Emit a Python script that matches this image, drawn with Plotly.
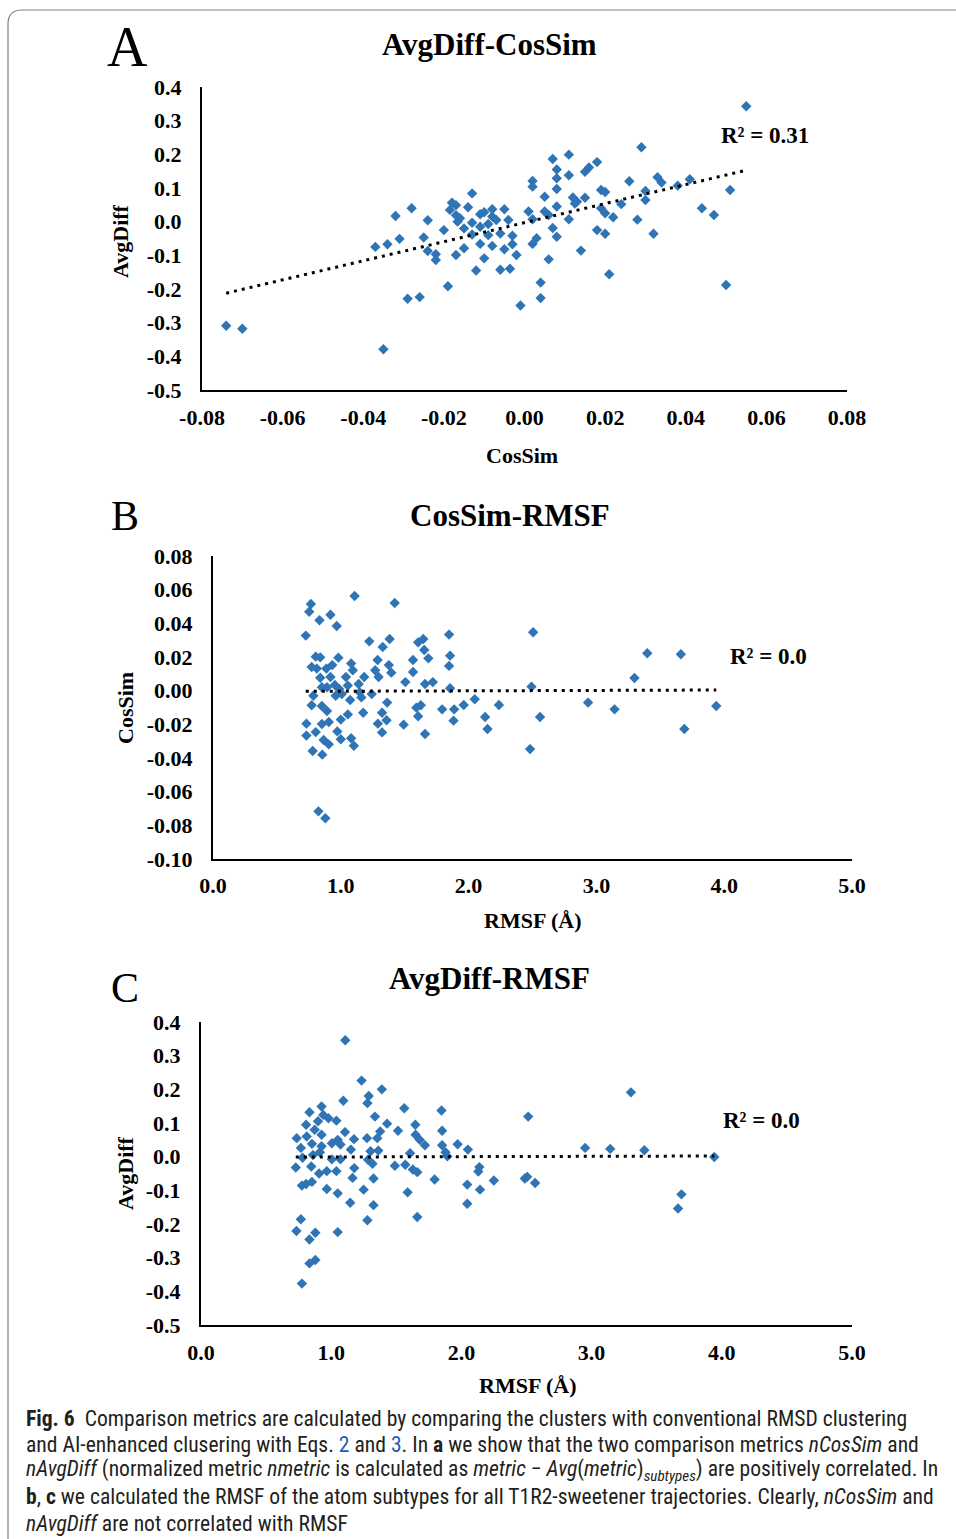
import plotly.graph_objects as go

W, H = 956, 1539

# ---------------- data ----------------
a_cossim = [0.055, 0.029, 0.011, 0.007, 0.018, 0.008, 0.016, 0.015, 0.008, 0.011,
            0.002, 0.002, 0.008, 0.026, 0.033, 0.034, 0.038, 0.041, 0.051, 0.030,
            0.019, 0.020, 0.005, 0.012, 0.015, 0.0125, 0.008, 0.030, 0.024, 0.019,
            0.020, 0.022, 0.028, 0.044, 0.047, 0.032, 0.050, -0.013, -0.028, -0.032,
            -0.024, -0.018, -0.017, -0.0185, -0.014, -0.0166, -0.016, -0.020, -0.031, -0.025,
            -0.037, -0.034, -0.024, -0.022, -0.022, -0.017, -0.015, -0.012, -0.019, -0.029,
            -0.026, -0.035, -0.074, -0.070, -0.015, -0.013, -0.011, -0.011, -0.008, -0.005,
            -0.008, -0.007, -0.009, -0.004, -0.006, -0.009, -0.011, -0.008, -0.003, -0.003,
            -0.005, -0.002, -0.010, -0.006, -0.0036, -0.001, 0.004, 0.004, 0.006, 0.014,
            0.021, 0.018, 0.020, 0.008, 0.007, 0.002, 0.003, 0.001, 0.002, 0.005,
            0.006, 0.011, 0.013, -0.013, -0.017, -0.010]
a_avgdiff = [0.343, 0.221, 0.199, 0.186, 0.177, 0.155, 0.161, 0.148, 0.129, 0.138,
             0.121, 0.104, 0.097, 0.120, 0.132, 0.116, 0.107, 0.126, 0.094, 0.091,
             0.094, 0.088, 0.074, 0.072, 0.071, 0.054, 0.045, 0.064, 0.052, 0.040,
             0.025, 0.013, 0.006, 0.040, 0.020, -0.036, -0.188, 0.084, 0.040, 0.017,
             0.004, 0.056, 0.049, 0.035, 0.043, 0.000, 0.010, -0.025, -0.051, -0.047,
             -0.075, -0.067, -0.087, -0.097, -0.114, -0.099, -0.079, -0.145, -0.192, -0.229,
             -0.224, -0.379, -0.309, -0.318, -0.020, -0.038, -0.015, 0.022, 0.037, 0.037,
             0.015, 0.005, -0.007, 0.005, -0.035, -0.040, -0.066, -0.072, -0.042, -0.067,
             -0.082, -0.099, -0.109, -0.143, -0.140, -0.249, -0.181, -0.227, -0.112, -0.086,
             -0.156, -0.025, -0.036, -0.045, -0.019, -0.066, -0.049, 0.030, 0.007, 0.030,
             0.020, 0.007, 0.059, -0.003, 0.019, 0.028]
a_trend = [2.83, -0.003]          # slope, intercept of the dotted trendline
a_r2 = "R² = 0.31"

b_rmsf = [0.726, 0.766, 0.753, 0.833, 0.919, 0.968, 1.108, 1.422, 0.804, 0.839,
          0.981, 0.772, 0.812, 0.887, 0.933, 0.839, 0.919, 0.954, 1.040, 1.081,
          1.094, 1.183, 1.223, 1.328, 1.382, 1.288, 1.376, 1.395, 1.269, 1.296,
          1.140, 1.565, 1.605, 1.645, 1.653, 1.685, 1.565, 1.505, 1.659, 1.720,
          1.847, 1.855, 1.847, 1.855, 2.505, 2.492, 3.398, 3.661, 3.298, 3.938,
          2.935, 3.142, 3.688, 2.559, 2.481, 2.129, 2.148, 2.237, 2.048, 1.962,
          1.887, 1.882, 1.793, 1.659, 1.591, 1.626, 1.605, 1.492, 1.363, 1.323,
          1.358, 1.290, 1.323, 1.175, 1.161, 1.073, 1.055, 1.000, 0.973, 1.000,
          1.081, 1.102, 0.906, 0.852, 0.866, 0.906, 0.780, 0.855, 0.731, 0.731,
          0.804, 0.772, 0.852, 0.892, 0.825, 0.879, 0.785, 0.852, 0.960, 1.148,
          1.242, 0.987, 1.055, 0.892, 1.008]
b_cossim = [0.0327, 0.0515, 0.0469, 0.0418, 0.0451, 0.0384, 0.0562, 0.0521, 0.0202, 0.0198,
            0.0196, 0.0141, 0.0131, 0.0131, 0.0152, 0.0077, 0.0081, 0.0034, 0.0081, 0.0162,
            0.0121, 0.0081, 0.0293, 0.0259, 0.0307, 0.0182, 0.0152, 0.0107, 0.0121, 0.0081,
            0.0040, 0.0182, 0.0287, 0.0307, 0.0242, 0.0192, 0.0111, 0.0051, 0.0040, 0.0051,
            0.0333, 0.0208, 0.0147, 0.0014, 0.0347, 0.0024, 0.0222, 0.0216, 0.0075, -0.0091,
            -0.0071, -0.0111, -0.0228, -0.0156, -0.0347, -0.0156, -0.0228, -0.0085, -0.0051, -0.0085,
            -0.0111, -0.0178, -0.0111, -0.0257, -0.0101, -0.0087, -0.0152, -0.0202, -0.0071, -0.0131,
            -0.0176, -0.0196, -0.0248, -0.0131, -0.0040, -0.0055, -0.0141, -0.0172, -0.0242, -0.0289,
            -0.0283, -0.0327, -0.0186, -0.0198, -0.0293, -0.0319, -0.0358, -0.0380, -0.0196, -0.0267,
            -0.0246, -0.0087, -0.0091, -0.0121, -0.0717, -0.0758, -0.0030, 0.0020, -0.0030, -0.0010,
            -0.0020, 0.0010, 0.0030, 0.0020, -0.0020]
b_trend = [0.00025, -0.0006]
b_r2 = "R² = 0.0"

c_rmsf = [1.108, 1.233, 1.389, 1.288, 1.278, 1.093, 3.302, 2.513, 1.561, 1.847,
          1.852, 1.852, 1.878, 1.892, 1.971, 2.050, 1.646, 1.648, 1.680, 1.720,
          1.429, 1.513, 1.336, 1.376, 1.354, 1.275, 1.175, 1.106, 1.040, 0.926,
          0.833, 0.807, 0.873, 0.899, 0.939, 0.979, 0.735, 0.812, 0.767, 0.852,
          0.926, 1.005, 1.050, 1.071, 0.926, 0.728, 0.847, 0.860, 0.907, 0.966,
          1.005, 1.040, 1.164, 1.177, 0.775, 0.807, 0.852, 0.966, 1.050, 1.146,
          1.249, 1.325, 1.325, 1.278, 1.050, 0.767, 0.733, 0.878, 0.833, 0.833,
          0.878, 0.775, 1.489, 1.569, 1.606, 1.627, 1.661, 1.587, 1.661, 1.794,
          2.045, 2.045, 2.143, 2.130, 2.138, 2.249, 2.487, 2.505, 2.566, 2.950,
          3.143, 3.405, 3.942, 3.690, 3.664, 1.302, 1.362, 1.283, 1.317, 1.071,
          1.151, 0.780, 0.913]
c_avgdiff = [0.346, 0.226, 0.200, 0.180, 0.159, 0.166, 0.191, 0.119, 0.144, 0.137,
             0.077, 0.034, 0.013, 0.001, 0.037, 0.021, 0.095, 0.065, 0.050, 0.034,
             0.098, 0.077, 0.119, 0.075, 0.055, 0.055, 0.052, 0.073, 0.107, 0.149,
             0.132, 0.095, 0.080, 0.105, 0.124, 0.114, 0.055, 0.060, 0.026, 0.038,
             0.065, 0.040, 0.050, 0.036, 0.031, -0.032, -0.029, 0.005, -0.050, -0.043,
             -0.008, -0.043, -0.063, -0.034, -0.086, -0.081, -0.075, -0.096, -0.109, -0.137,
             -0.098, -0.065, -0.144, -0.189, -0.224, -0.186, -0.221, -0.226, -0.246, -0.317,
             -0.307, -0.377, -0.027, -0.024, 0.010, -0.038, -0.046, -0.106, -0.179, -0.068,
             -0.083, -0.140, -0.098, -0.044, -0.031, -0.071, -0.065, -0.060, -0.078, 0.026,
             0.023, 0.019, -0.001, -0.112, -0.154, 0.016, 0.018, -0.009, -0.021, -0.008,
             0.021, -0.003, 0.013]
c_trend = [0.001, -0.002]
c_r2 = "R² = 0.0"

# tick labels
a_xticks = [-0.08, -0.06, -0.04, -0.02, 0.0, 0.02, 0.04, 0.06, 0.08]
a_xlabels = ["-0.08", "-0.06", "-0.04", "-0.02", "0.00", "0.02", "0.04", "0.06", "0.08"]
ad_yticks = [0.4, 0.3, 0.2, 0.1, 0.0, -0.1, -0.2, -0.3, -0.4, -0.5]
ad_ylabels = ["0.4", "0.3", "0.2", "0.1", "0.0", "-0.1", "-0.2", "-0.3", "-0.4", "-0.5"]
rmsf_xticks = [0, 1, 2, 3, 4, 5]
rmsf_xlabels = ["0.0", "1.0", "2.0", "3.0", "4.0", "5.0"]
b_yticks = [0.08, 0.06, 0.04, 0.02, 0.0, -0.02, -0.04, -0.06, -0.08, -0.10]
b_ylabels = ["0.08", "0.06", "0.04", "0.02", "0.00", "-0.02", "-0.04", "-0.06", "-0.08", "-0.10"]

# ---------------- helpers ----------------
def px(X):
    return X / W

def py(Y):
    return 1 - Y / H

SERIF = "Liberation Serif, Times New Roman, serif"
BLUE = "#2F74B5"

fig = go.Figure()

panels = [
    (a_cossim, a_avgdiff, a_trend, "x", "y"),
    (b_rmsf, b_cossim, b_trend, "x2", "y2"),
    (c_rmsf, c_avgdiff, c_trend, "x3", "y3"),
]
for xs, ys, tr, xr, yr in panels:
    fig.add_trace(go.Scatter(x=xs, y=ys, mode="markers", xaxis=xr, yaxis=yr,
                             marker=dict(symbol="diamond", size=8, color=BLUE, line=dict(width=0)),
                             showlegend=False, hoverinfo="skip"))
    x0, x1 = min(xs), max(xs)
    fig.add_trace(go.Scatter(x=[x0, x1], y=[tr[0] * x0 + tr[1], tr[0] * x1 + tr[1]],
                             mode="lines", xaxis=xr, yaxis=yr,
                             line=dict(color="black", width=3, dash="3px,5px"),
                             showlegend=False, hoverinfo="skip"))

tickfont = dict(family=SERIF, size=22, color="black", weight="bold")

def axis(dom, rng, tv, tt, anchor, standoff):
    return dict(domain=dom, range=rng, tickvals=tv, ticktext=tt, tickfont=tickfont,
                showline=True, linecolor="black", linewidth=2, showgrid=False,
                zeroline=False, ticks="", ticklabelstandoff=standoff, anchor=anchor,
                fixedrange=True, automargin=False)

fig.update_layout(
    width=W, height=H, autosize=False,
    margin=dict(l=0, r=0, t=0, b=0, pad=0, autoexpand=False),
    paper_bgcolor="white", plot_bgcolor="white",
    xaxis=axis([px(202), px(847)], [-0.08, 0.08], a_xticks, a_xlabels, "y", 7),
    yaxis=axis([py(390), py(87)], [-0.5, 0.4], ad_yticks, ad_ylabels, "x", 14),
    xaxis2=axis([px(213), px(852)], [0, 5], rmsf_xticks, rmsf_xlabels, "y2", 6),
    yaxis2=axis([py(859), py(556)], [-0.10, 0.08], b_yticks, b_ylabels, "x2", 14),
    xaxis3=axis([px(201), px(852)], [0, 5], rmsf_xticks, rmsf_xlabels, "y3", 7),
    yaxis3=axis([py(1325), py(1022)], [-0.5, 0.4], ad_yticks, ad_ylabels, "x3", 14),
)

ann = []

def text(X, Y, s, size, bold=True, angle=0, xanchor="center", family=SERIF, color="black"):
    ann.append(dict(x=px(X), y=py(Y), xref="paper", yref="paper", text=s, showarrow=False,
                    xanchor=xanchor, yanchor="middle", textangle=angle,
                    font=dict(family=family, size=size, color=color,
                              weight="bold" if bold else "normal")))

# panel letters
text(128, 47, "A", 56, bold=False)
text(125, 516, "B", 42, bold=False)
text(125, 988, "C", 42, bold=False)
# titles
text(489, 44, "AvgDiff-CosSim", 31)
text(510, 515, "CosSim-RMSF", 31)
text(489, 978, "AvgDiff-RMSF", 31)
# axis titles
text(522, 455, "CosSim", 22)
text(121, 241, "AvgDiff", 22, angle=-90)
text(533, 920, "RMSF (Å)", 22)
text(125, 708, "CosSim", 22, angle=-90)
text(528, 1385, "RMSF (Å)", 22)
text(125, 1173, "AvgDiff", 22, angle=-90)
# R² labels
text(719, 135, a_r2, 23, xanchor="left")
text(728, 657, b_r2, 23, xanchor="left")
text(721, 1120, c_r2, 23, xanchor="left")

# caption
CAP = "Roboto Condensed, Liberation Sans Narrow, Noto Sans, sans-serif"
LINK = "#1a5fb4"
cap_lines = [
    "<b>Fig. 6</b>\u00a0\u00a0Comparison metrics are calculated by comparing the clusters with conventional RMSD clustering",
    f"and AI-enhanced clusering with Eqs. <span style='color:{LINK}'>2</span> and <span style='color:{LINK}'>3</span>. In <b>a</b> we show that the two comparison metrics <i>nCosSim</i> and",
    "<i>nAvgDiff</i> (normalized metric <i>nmetric</i> is calculated as <i>metric</i> − <i>Avg</i>(<i>metric</i>)<sub><i>subtypes</i></sub>) are positively correlated. In",
    "<b>b</b>, <b>c</b> we calculated the RMSF of the atom subtypes for all T1R2-sweetener trajectories. Clearly, <i>nCosSim</i> and",
    "<i>nAvgDiff</i> are not correlated with RMSF",
]
for i, line in enumerate(cap_lines):
    text(24, 1418 + i * 26.3, line, 21.6, bold=False, xanchor="left", family=CAP, color="#231f20")

fig.update_layout(annotations=ann)

# frame around the figure
fig.add_shape(type="path", xref="paper", yref="paper",
              path=f"M {px(8)},{py(1539)} L {px(8)},{py(24)} Q {px(8)},{py(10)} {px(22)},{py(10)} L {px(956)},{py(10)}",
              line=dict(color="#808080", width=1.2))

fig.write_html("out.html", config={"responsive": False, "displayModeBar": False},
               post_script="document.body.style.margin='0';document.body.style.overflow='hidden';")
